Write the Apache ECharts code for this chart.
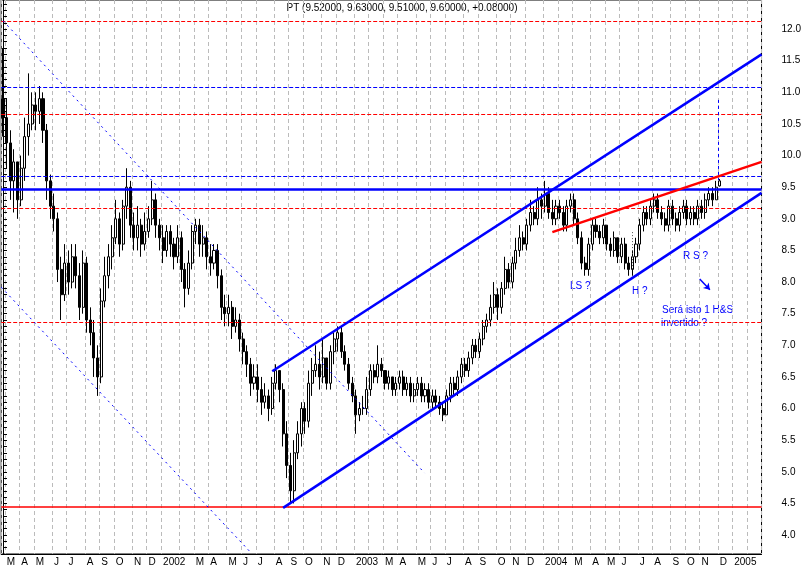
<!DOCTYPE html>
<html><head><meta charset="utf-8">
<script src="https://cdn.jsdelivr.net/npm/echarts@6/dist/echarts.min.js"></script>
<style>html,body{margin:0;padding:0;background:#fff}#c{width:804px;height:569px}</style>
</head><body><div id="c"></div>
<script>
const opens = [10.9,10.6,10.2,9.6,9.9,9.3,9.8,10.3,10.5,10.8, 10.7,10.9,10.4,9.6,9.2,9.0,8.2,7.8,8.3,8.0, 8.4,8.1,7.6,8.3,7.4,7.2,6.8,6.5,7.7,8.1, 8.4,8.7,9.0,8.6,9.2,9.5,8.9,8.7,8.9,8.6, 8.8,9.0,9.3,8.9,8.7,8.5,8.8,8.6,8.4,8.7, 8.2,7.9,8.3,8.8,8.9,8.6,8.7,8.4,8.3,8.5, 8.1,7.6,7.5,7.6,7.3,7.4,7.1,6.9,6.7,6.4, 6.5,6.3,6.1,6.2,6.0,6.4,6.6,6.3,5.6,5.1, 4.7,5.3,5.6,6.0,5.8,6.4,6.6,6.7,6.5,6.8, 6.4,6.9,7.1,7.2,6.9,6.7,6.4,6.2,5.9,6.0, 6.0,6.3,6.6,6.5,6.7,6.6,6.4,6.5,6.3,6.4, 6.5,6.3,6.4,6.2,6.3,6.4,6.2,6.3,6.1,6.2, 6.1,6.0,5.9,6.2,6.4,6.3,6.5,6.7,6.6,6.8, 7.0,6.9,7.1,7.3,7.4,7.6,7.8,7.6,7.9,8.2, 8.0,8.3,8.5,8.7,8.6,8.9,9.1,9.0,9.3,9.2, 9.4,9.1,9.0,9.2,9.1,8.9,9.2,9.3,9.0,8.7, 8.3,8.2,8.6,8.9,8.8,8.7,8.9,8.6,8.5,8.7, 8.4,8.6,8.3,8.2,8.4,8.6,8.9,9.1,9.0,9.2, 9.3,9.1,9.0,8.9,9.2,9.0,8.9,9.1,9.2,9.0, 9.1,9.0,9.2,9.1,9.3,9.4,9.3,9.52];
const closes = [10.6,10.2,9.6,9.9,9.3,9.8,10.3,10.5,10.8,10.7, 10.9,10.4,9.6,9.2,9.0,8.2,7.8,8.3,8.0,8.4, 8.1,7.6,8.3,7.4,7.2,6.8,6.5,7.7,8.1,8.4, 8.7,9.0,8.6,9.2,9.5,8.9,8.7,8.9,8.6,8.8, 9.0,9.3,8.9,8.7,8.5,8.8,8.6,8.4,8.7,8.2, 7.9,8.3,8.8,8.9,8.6,8.7,8.4,8.3,8.5,8.1, 7.6,7.5,7.6,7.3,7.4,7.1,6.9,6.7,6.4,6.5, 6.3,6.1,6.2,6.0,6.4,6.6,6.3,5.6,5.1,4.7, 5.3,5.6,6.0,5.8,6.4,6.6,6.7,6.5,6.8,6.4, 6.9,7.1,7.2,6.9,6.7,6.4,6.2,5.9,6.0,6.0, 6.3,6.6,6.5,6.7,6.6,6.4,6.5,6.3,6.4,6.5, 6.3,6.4,6.2,6.3,6.4,6.2,6.3,6.1,6.2,6.1, 6.0,5.9,6.2,6.4,6.3,6.5,6.7,6.6,6.8,7.0, 6.9,7.1,7.3,7.4,7.6,7.8,7.6,7.9,8.2,8.0, 8.3,8.5,8.7,8.6,8.9,9.1,9.0,9.3,9.2,9.4, 9.1,9.0,9.2,9.1,8.9,9.2,9.3,9.0,8.7,8.3, 8.2,8.6,8.9,8.8,8.7,8.9,8.6,8.5,8.7,8.4, 8.6,8.3,8.2,8.4,8.6,8.9,9.1,9.0,9.2,9.3, 9.1,9.0,8.9,9.2,9.0,8.9,9.1,9.2,9.0,9.1, 9.0,9.2,9.1,9.3,9.4,9.3,9.5,9.60];
const highs = [11.7,10.9,10.4,10.1,9.9,10.0,10.6,11.3,11.0,11.0, 11.1,11.0,10.5,9.7,9.4,9.1,8.4,8.6,8.5,8.6, 8.6,8.3,8.5,8.4,7.6,7.4,7.0,7.9,8.4,8.6, 8.9,9.3,9.1,9.3,9.8,9.6,9.1,9.2,9.0,9.1, 9.2,9.6,9.4,9.0,8.9,8.9,8.9,8.7,8.9,8.8, 8.3,8.5,8.9,9.0,9.0,8.9,8.8,8.6,8.6,8.6, 8.2,7.8,7.8,7.7,7.6,7.5,7.2,7.0,6.8,6.7, 6.7,6.5,6.4,6.3,6.5,6.7,6.6,6.4,5.8,5.3, 5.5,5.8,6.1,6.1,6.6,6.8,7.0,6.9,7.1,6.8, 7.0,7.2,7.3,7.3,7.0,6.8,6.5,6.3,6.1,6.2, 6.5,6.7,6.7,7.0,6.8,6.6,6.6,6.5,6.5,6.6, 6.6,6.5,6.5,6.4,6.5,6.5,6.4,6.4,6.3,6.3, 6.2,6.1,6.3,6.5,6.5,6.6,6.8,6.8,6.9,7.1, 7.1,7.2,7.4,7.5,7.8,8.0,7.9,8.0,8.4,8.3, 8.4,8.7,8.9,8.8,9.0,9.3,9.2,9.5,9.4,9.6, 9.5,9.3,9.3,9.3,9.2,9.3,9.4,9.4,9.1,8.8, 8.4,8.7,9.0,9.0,8.9,9.0,8.9,8.7,8.8,8.7, 8.7,8.7,8.4,8.5,8.7,9.0,9.2,9.2,9.3,9.4, 9.4,9.2,9.1,9.3,9.3,9.1,9.2,9.3,9.3,9.2, 9.2,9.3,9.3,9.4,9.5,9.5,9.6,9.63];
const lows = [10.3,9.8,9.3,9.1,9.0,9.2,9.6,10.0,10.4,10.4, 10.5,10.2,9.3,9.0,8.8,8.0,7.4,7.7,7.8,7.9, 7.9,7.4,7.5,7.2,7.0,6.5,6.2,6.4,7.6,7.9, 8.2,8.6,8.4,8.5,9.0,8.7,8.5,8.5,8.4,8.5, 8.7,8.9,8.7,8.5,8.3,8.4,8.4,8.2,8.3,8.0, 7.6,7.8,8.2,8.6,8.4,8.4,8.2,8.1,8.2,7.9, 7.4,7.3,7.3,7.1,7.2,6.9,6.7,6.5,6.2,6.3, 6.1,5.9,6.0,5.8,5.9,6.3,6.1,5.4,4.9,4.5, 4.5,5.2,5.4,5.6,5.7,6.2,6.5,6.3,6.4,6.3, 6.3,6.7,6.9,6.8,6.6,6.3,6.1,5.6,5.8,5.9, 5.9,6.2,6.4,6.4,6.5,6.3,6.3,6.2,6.2,6.3, 6.2,6.2,6.1,6.1,6.2,6.1,6.1,6.0,6.0,6.0, 5.9,5.8,5.9,6.1,6.2,6.2,6.4,6.5,6.5,6.7, 6.8,6.8,7.0,7.2,7.3,7.5,7.4,7.5,7.8,7.9, 7.9,8.2,8.4,8.5,8.5,8.8,8.9,8.9,9.0,9.1, 9.0,8.9,8.9,9.0,8.8,8.8,9.1,8.9,8.6,8.2, 8.1,8.1,8.5,8.7,8.6,8.6,8.5,8.4,8.4,8.3, 8.3,8.2,8.1,8.1,8.3,8.5,8.8,8.9,8.9,9.1, 9.0,8.9,8.8,8.8,8.9,8.8,8.8,9.0,8.9,8.9, 8.9,8.9,9.0,9.0,9.2,9.2,9.3,9.51];
const yTickLabels = [4.0,4.5,5.0,5.5,6.0,6.5,7.0,7.5,8.0,8.5,9.0,9.5,10.0,10.5,11.0,11.5,12.0];
const monthLetters = ['J','','M','A','M','J','J','A','S','O','N','D'];
// overlay lines: [[weekIndex, price],[weekIndex, price], color, width, type]
const overlays = [
  [[-0.5,12.13],[208.5,12.13],'#ff0000',1,'dashed'],
  [[-0.5,10.66],[208.5,10.66],'#ff0000',1,'dashed'],
  [[-0.5,9.17],[208.5,9.17],'#ff0000',1,'dashed'],
  [[-0.5,7.37],[208.5,7.37],'#ff0000',1,'dashed'],
  [[-0.5,4.44],[208.5,4.44],'#ff0000',1.5,'solid'],
  [[-0.5,11.08],[208.5,11.08],'#0000ff',1,'dashed'],
  [[-0.5,9.68],[208.5,9.68],'#0000ff',1,'dashed'],
  [[-0.5,9.47],[208.5,9.47],'#0000ff',2.5,'solid'],
  [[0.05,12.13],[115.9,4.98],'#0000ff',1,[2,4]],
  [[-0.5,7.92],[68.0,3.73],'#0000ff',1,[2,4]],
  [[74.0,6.59],[208.5,11.60],'#0000ff',2.5,'solid'],
  [[77.0,4.43],[208.5,9.41],'#0000ff',2.5,'solid'],
  [[151.0,8.79],[208.5,9.90],'#ff0000',2.5,'solid'],
  [[196.7,10.88],[196.7,9.61],'#0000ff',1,[3,3]],
  [[172.9,8.79],[172.9,8.19],'#555555',1,[1,2]]
];
const N = 209;
const cats = [];
const start = new Date(Date.UTC(2001,1,27));
for (let i=0;i<N;i++){ const d=new Date(start.getTime()+i*7*86400000); cats.push(d.getUTCFullYear()+'-'+d.getUTCMonth()); }
function isNewMonth(i){ return i===0 ? true : cats[i]!==cats[i-1]; }
function labelOf(v){ const [y,m]=v.split('-').map(Number); return m===0? String(y) : monthLetters[m]; }
const candleData = opens.map((o,i)=>[o,closes[i],lows[i],highs[i]]);
const minorTicks=[]; for(let k=37;k<=124;k++) minorTicks.push(k/10);

const chart = echarts.init(document.getElementById('c'));
const lineData = overlays.map(l=>[{coord:l[0],lineStyle:{color:l[2],width:l[3],type:l[4]}},{coord:l[1]}]);
chart.setOption({
  animation:false,
  backgroundColor:'#fff',
  grid:{left:0,right:41,top:0,bottom:15,show:true,borderColor:'#000',borderWidth:1},
  xAxis:[{type:'category',data:cats,boundaryGap:true,
    axisLine:{lineStyle:{color:'#000'}},
    axisTick:{interval:(i)=>isNewMonth(i),length:14,lineStyle:{color:'#000'}},
    axisLabel:{interval:(i)=>isNewMonth(i),formatter:labelOf,align:'left',margin:3,color:'#000',fontSize:10,fontFamily:'Liberation Sans',padding:[0,0,0,0]},
    splitLine:{show:true,interval:(i)=>isNewMonth(i),lineStyle:{color:'#bbb',type:[4,3]}}},
    {type:'value',min:-0.5,max:N-0.5,show:false}],
  yAxis:{type:'value',position:'right',min:3.70,max:12.46,
    axisLine:{show:true,lineStyle:{color:'#000'}},splitLine:{show:false},
    axisTick:{show:true,customValues:minorTicks,length:4,lineStyle:{color:'#000'}},
    axisLabel:{customValues:yTickLabels,formatter:v=>v.toFixed(1),margin:20,color:'#000',fontSize:10,fontFamily:'Liberation Sans'}},
  series:[
    {type:'scatter',xAxisIndex:1,data:[],silent:true,
     markLine:{silent:true,symbol:['none','none'],label:{show:false},animation:false,data:lineData}},
    {type:'scatter',xAxisIndex:1,data:[],silent:true,
     markLine:{silent:true,symbol:['none','arrow'],symbolSize:6,label:{show:false},
       data:[[{coord:[191.5,8.05],lineStyle:{color:'#0000ff',width:1.5,type:'solid'}},{coord:[194.3,7.88]}]]}},
    {type:'candlestick',data:candleData,barWidth:'70%',
     itemStyle:{color:'#fff',color0:'#000',borderColor:'#000',borderColor0:'#000',borderWidth:1}}
  ],
  graphic:[
    {type:'text',left:'center',top:3,style:{text:'PT (9.52000, 9.63000, 9.51000, 9.60000, +0.08000)',fill:'#000',font:'10px "Liberation Sans"'},x:-25},
    {type:'text',x:570,y:281,style:{text:'LS ?',fill:'#0000ff',font:'10px "Liberation Sans"'}},
    {type:'text',x:632,y:286,style:{text:'H ?',fill:'#0000ff',font:'10px "Liberation Sans"'}},
    {type:'text',x:683,y:251,style:{text:'R S ?',fill:'#0000ff',font:'10px "Liberation Sans"'}},
    {type:'text',x:662,y:305,style:{text:'Será isto 1 H&S',fill:'#0000ff',font:'10px "Liberation Sans"'}},
    {type:'text',x:661,y:318,style:{text:'invertido ?',fill:'#0000ff',font:'10px "Liberation Sans"'}}
  ]
});
</script></body></html>
